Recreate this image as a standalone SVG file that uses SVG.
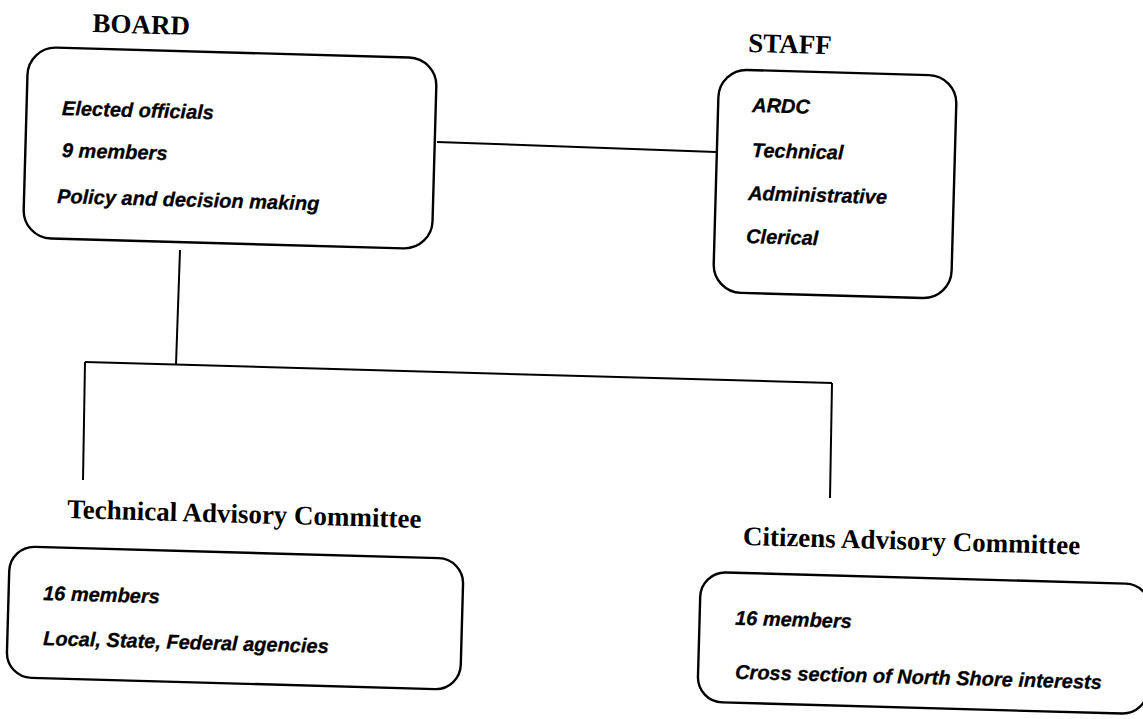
<svg xmlns="http://www.w3.org/2000/svg" width="1143" height="719" viewBox="0 0 1143 719">
<style>
.box{fill:none;stroke:#000;stroke-width:2.4}
.title{font-family:"Liberation Serif","Times New Roman",serif;font-weight:bold;font-size:27px;fill:#000}
.item{font-family:"Liberation Sans",Arial,sans-serif;font-weight:bold;font-style:italic;font-size:20px;fill:#000;stroke:#000;stroke-width:0.3}
.conn{fill:none;stroke:#000;stroke-width:2}
</style>
<rect width="1143" height="719" fill="#fff"/>
<g id="connectors">
<path class="conn" d="M437,142 L716,152"/>
<path class="conn" d="M180,250 L176,364.5"/>
<path class="conn" d="M85,362 L832,383"/>
<path class="conn" d="M85,362 L83,480"/>
<path class="conn" d="M832,383 L830,498"/>
</g>
<g id="board" transform="rotate(1.6 230 148)">
<text class="title" x="89" y="36">BOARD</text>
<rect class="box" x="25.5" y="52.5" width="409" height="191" rx="28"/>
<text class="item" x="61" y="119.7">Elected officials</text>
<text class="item" x="62" y="161.7">9 members</text>
<text class="item" x="58.5" y="207.8">Policy and decision making</text>
</g>
<g id="staff" transform="rotate(1.6 835 184)">
<text class="title" x="744.3" y="54.4">STAFF</text>
<rect class="box" x="716" y="72.5" width="238" height="223" rx="28"/>
<text class="item" x="750" y="114.3">ARDC</text>
<text class="item" x="751" y="159.3">Technical</text>
<text class="item" x="748.4" y="202.4">Administrative</text>
<text class="item" x="747.6" y="245.5">Clerical</text>
</g>
<g id="technical-advisory-committee" transform="rotate(1.6 235 618)">
<text class="title" x="64.2" y="522.7">Technical Advisory Committee</text>
<rect class="box" x="8" y="552.5" width="454" height="131" rx="25"/>
<text class="item" x="42.5" y="605.4">16 members</text>
<text class="item" x="43.8" y="650.4">Local, State, Federal agencies</text>
</g>
<g id="citizens-advisory-committee" transform="rotate(1.6 924 643)">
<text class="title" x="740" y="550">Citizens Advisory Committee</text>
<rect class="box" x="699" y="578" width="450" height="130" rx="25"/>
<text class="item" x="734.5" y="630">16 members</text>
<text class="item" x="736" y="684">Cross section of North Shore interests</text>
</g>
</svg>
